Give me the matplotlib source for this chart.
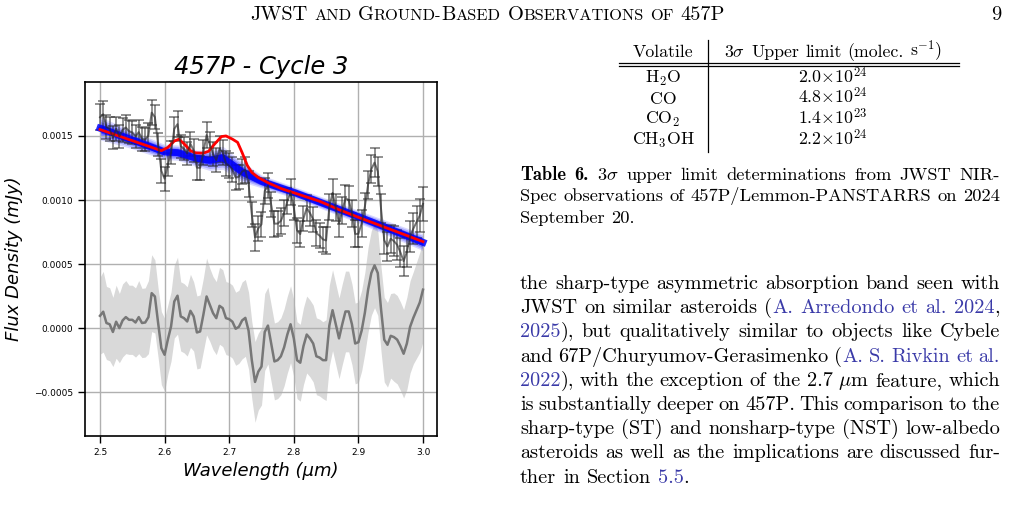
import matplotlib
matplotlib.use('Agg')
import matplotlib.pyplot as plt
from matplotlib.lines import Line2D
import numpy as np

plt.rcParams['mathtext.fontset'] = 'cm'

W, H = 1009, 519

# ---- spectrum data (flux in mJy) ----
wavelength = np.round(np.arange(2.5, 3.0001, 0.005), 3)
flux = np.array([
    16.46, 16.69, 15.72, 15.54, 14.85, 15.56, 14.97, 15.48, 15.66, 15.36,
    15.27, 14.97, 15.30, 14.76, 14.71, 15.04, 16.82, 16.47, 14.32, 12.27,
    11.66, 12.75, 13.69, 15.56, 15.92, 14.21, 13.99, 13.64, 14.39, 13.86,
    12.52, 12.51, 13.72, 15.07, 14.33, 13.59, 13.11, 13.98, 13.72, 12.85,
    12.68, 12.39, 11.75, 11.82, 12.23, 12.34, 11.25, 8.86, 7.08, 7.79,
    8.10, 10.71, 11.12, 9.64, 8.15, 8.16, 8.37, 8.98, 9.90, 10.61,
    9.42, 7.63, 7.34, 8.56, 9.37, 8.98, 8.49, 7.40, 7.22, 6.93,
    6.84, 9.45, 10.56, 9.38, 8.19, 9.20, 10.11, 10.02, 8.94, 7.35,
    7.36, 8.17, 9.48, 11.20, 12.41, 12.92, 12.23, 9.34, 6.86, 6.37,
    6.98, 6.79, 6.50, 5.92, 5.23, 5.94, 7.15, 7.76, 8.28, 8.79,
    9.70]) * 1e-4
flux_err = np.array([
    1.00, 1.05, 0.95, 0.95, 0.90, 0.95, 0.90, 0.95, 0.95, 0.90,
    0.90, 0.90, 0.95, 0.90, 0.90, 0.95, 1.00, 0.95, 0.90, 0.95,
    0.95, 0.90, 0.90, 0.95, 1.00, 0.90, 0.90, 0.90, 0.95, 0.90,
    0.95, 0.95, 0.95, 1.00, 0.95, 0.95, 0.95, 1.00, 1.00, 0.95,
    0.95, 0.95, 0.95, 0.95, 1.00, 1.00, 1.00, 1.00, 1.05, 1.00,
    1.00, 1.00, 1.00, 1.00, 1.00, 1.00, 1.00, 1.00, 1.00, 1.00,
    1.00, 1.00, 1.00, 1.00, 1.00, 1.00, 1.00, 1.00, 1.00, 1.00,
    1.05, 1.05, 1.05, 1.05, 1.05, 1.05, 1.05, 1.05, 1.05, 1.05,
    1.05, 1.05, 1.05, 1.10, 1.10, 1.10, 1.10, 1.10, 1.10, 1.10,
    1.10, 1.15, 1.15, 1.15, 1.15, 1.20, 1.20, 1.20, 1.25, 1.30,
    1.35]) * 1e-4
residual = np.array([
    0.96, 1.28, 0.40, 0.30, -0.30, 0.50, 0.00, 0.60, 0.86, 0.65,
    0.65, 0.44, 0.86, 0.40, 0.44, 0.86, 2.73, 2.47, 0.40, -1.56,
    -2.08, -0.90, 0.13, 2.08, 2.53, 0.91, 0.78, 0.52, 1.35, 0.91,
    -0.34, -0.26, 1.04, 2.47, 1.82, 1.17, 0.78, 1.74, 1.56, 0.78,
    0.70, 0.50, -0.05, 0.10, 0.60, 0.80, -0.20, -2.50, -4.20, -3.40,
    -3.00, -0.30, 0.20, -1.20, -2.60, -2.50, -2.20, -1.50, -0.50, 0.30,
    -0.80, -2.50, -2.70, -1.40, -0.50, -0.80, -1.20, -2.20, -2.30, -2.50,
    -2.50, 0.20, 1.40, 0.30, -0.80, 0.30, 1.30, 1.30, 0.30, -1.20,
    -1.10, -0.20, 1.20, 3.00, 4.30, 4.90, 4.30, 1.50, -0.90, -1.30,
    -0.60, -0.70, -0.90, -1.40, -2.00, -1.20, 0.10, 0.80, 1.40, 2.00,
    3.00]) * 1e-4

# MCMC model spread (blue) and best model with gas emission (red)
blue_x = [2.50, 2.55, 2.60, 2.62, 2.65, 2.67, 2.69, 2.72, 2.75, 2.80, 2.90, 3.00]
blue_mid = np.array([1.56, 1.47, 1.375, 1.37, 1.325, 1.31, 1.33, 1.22, 1.145, 1.06, 0.87, 0.67]) * 1e-3
blue_half = np.array([0.09, 0.07, 0.06, 0.06, 0.065, 0.08, 0.09, 0.08, 0.05, 0.045, 0.05, 0.065]) * 1e-3

red_x = [2.500, 2.595, 2.605, 2.615, 2.622, 2.630, 2.640, 2.648, 2.660, 2.668, 2.678,
         2.688, 2.695, 2.705, 2.713, 2.720, 2.728, 2.735, 2.745, 2.760, 2.780, 2.810,
         2.840, 2.870, 2.900, 3.000]
red_y = np.array([1.550, 1.385, 1.410, 1.460, 1.474, 1.440, 1.385, 1.368, 1.366, 1.380, 1.440,
                  1.495, 1.500, 1.475, 1.450, 1.370, 1.270, 1.215, 1.175, 1.135, 1.090, 1.040,
                  0.990, 0.925, 0.865, 0.675]) * 1e-3

xticks = [2.5, 2.6, 2.7, 2.8, 2.9, 3.0]
xtick_labels = ['2.5', '2.6', '2.7', '2.8', '2.9', '3.0']
yticks = [-0.0005, 0.0, 0.0005, 0.0010, 0.0015]
ytick_labels = ['\u22120.0005', '0.0000', '0.0005', '0.0010', '0.0015']

# ---- page text ----
volatiles = ['H$_2$O', 'CO', 'CO$_2$', 'CH$_3$OH']
upper_limits = ['2.0$\\times$10$^{24}$', '4.8$\\times$10$^{24}$',
                '1.4$\\times$10$^{23}$', '2.2$\\times$10$^{24}$']

caption_lines = [
    '<Table 6.> 3$\\sigma$ upper limit determinations from JWST NIR-',
    'Spec observations of 457P/Lemmon-PANSTARRS on 2024',
    'September 20.',
]
body_lines = [
    'the sharp-type asymmetric absorption band seen with',
    'JWST on similar asteroids ([A. Arredondo et al. 2024],',
    '[2025]), but qualitatively similar to objects like Cybele',
    'and 67P/Churyumov-Gerasimenko ([A. S. Rivkin et al.]',
    '[2022]), with the exception of the 2.7 $\\mu$m feature, which',
    'is substantially deeper on 457P. This comparison to the',
    'sharp-type (ST) and nonsharp-type (NST) low-albedo',
    'asteroids as well as the implications are discussed fur-',
    'ther in Section [5.5].',
]
LINK = '#3a3aa8'

fig = plt.figure(figsize=(W / 100, H / 100), dpi=100)
renderer = fig.canvas.get_renderer()


def fx(x):
    return x / W


def fy(y):
    return 1 - y / H


def seg_width(s, size, family):
    t = fig.text(0, 0, s, fontsize=size, family=family)
    w = t.get_window_extent(renderer).width
    t.remove()
    return w


def parse(line):
    words = []
    blue = bold = False
    for raw in line.split(' '):
        segs, cur = [], ''
        for ch in raw:
            if ch in '[]<>':
                if cur:
                    segs.append((cur, LINK if blue else 'black', 'cmb10' if bold else 'cmr10'))
                cur = ''
                if ch in '[]':
                    blue = ch == '['
                else:
                    bold = ch == '<'
            else:
                cur += ch
        if cur:
            segs.append((cur, LINK if blue else 'black', 'cmb10' if bold else 'cmr10'))
        words.append(segs)
    return words


def text_line(line, x0, y, size, x1=None, ha='left'):
    items = []
    for segs in parse(line):
        items.append([(s, c, f, seg_width(s, size, f)) for s, c, f in segs])
    widths = [sum(s[3] for s in segs) for segs in items]
    space = size * 100 / 72 * 0.333
    if x1 is not None and len(items) > 1:
        space = (x1 - x0 - sum(widths)) / (len(items) - 1)
    total = sum(widths) + space * (len(items) - 1)
    x = x0 - total / 2 if ha == 'center' else x0
    for segs in items:
        for s, c, f, sw in segs:
            fig.text(fx(x), fy(y), s, fontsize=size, family=f, color=c, va='baseline', ha='left')
            x += sw
        x += space


# running head in small caps
head = [('JWST', 1), (' ', 1), ('AND', 0), (' ', 1), ('G', 1), ('ROUND-', 0), ('B', 1),
        ('ASED', 0), (' ', 1), ('O', 1), ('BSERVATIONS', 0), (' ', 1), ('OF', 0), (' ', 1),
        ('457P', 1)]
big, small = 14.7, 11.8
x = 250
for s, cap in head:
    size = big if cap else small
    if s == ' ':
        x += big * 100 / 72 * 0.333
        continue
    fig.text(fx(x), fy(20), s, fontsize=size, family='cmr10', va='baseline')
    x += seg_width(s, size, 'cmr10')
fig.text(fx(1001), fy(20), '9', fontsize=14.7, family='cmr10', va='baseline', ha='right')

# table 6
tsize = 12.8
text_line('Volatile', 663, 57, tsize, ha='center')
text_line('3$\\sigma$ Upper limit (molec. s$^{-1}$)', 833, 57, tsize, ha='center')
for yy in (62.5, 66):
    fig.add_artist(Line2D([fx(619), fx(959)], [fy(yy), fy(yy)], lw=0.9, color='black',
                          transform=fig.transFigure))
fig.add_artist(Line2D([fx(707.5), fx(707.5)], [fy(40), fy(152)], lw=0.9, color='black',
                      transform=fig.transFigure))
for k, (v, u) in enumerate(zip(volatiles, upper_limits)):
    yb = 83 + k * 20.7
    fig.text(fx(663), fy(yb), v, fontsize=tsize, family='cmr10', ha='center', va='baseline')
    fig.text(fx(833), fy(yb), u, fontsize=tsize, family='cmr10', ha='center', va='baseline')

# caption
for k, line in enumerate(caption_lines):
    last = k == len(caption_lines) - 1
    text_line(line, 520, 180 + k * 21.3, 13.3, None if last else 1000)

# body paragraph
for k, line in enumerate(body_lines):
    last = k == len(body_lines) - 1
    text_line(line, 520, 289 + k * 24.2, 14.6, None if last else 1000)

# ---- the chart ----
ax = fig.add_axes([85 / W, (H - 436) / H, 351.7 / W, 354 / H])
ax.fill_between(wavelength, residual - 3 * flux_err, residual + 3 * flux_err,
                color='#d9d9d9', lw=0)
ax.plot(wavelength, residual, color='#777777', lw=1.8)
ax.errorbar(wavelength, flux, yerr=flux_err, color='#2a2a2a', alpha=0.65, lw=1.4,
            capsize=3.5, elinewidth=1.1, capthick=1.1)
for frac, a in [(1.0, 0.15), (0.8, 0.2), (0.6, 0.3), (0.4, 0.45)]:
    ax.fill_between(blue_x, blue_mid - frac * blue_half, blue_mid + frac * blue_half,
                    color='blue', alpha=a, lw=0)
ax.plot(blue_x, blue_mid, color='blue', lw=5, alpha=0.85)
ax.plot(red_x, red_y, color='red', lw=2)

ax.set_xlim(2.4768, 3.0212)
ax.set_ylim(-0.000842, 0.001921)
ax.set_xticks(xticks)
ax.set_xticklabels(xtick_labels)
ax.set_yticks(yticks)
ax.set_yticklabels(ytick_labels)
ax.tick_params(labelsize=6.5, length=5, width=1)
ax.grid(True, color='#b0b0b0', lw=1)
for sp in ax.spines.values():
    sp.set_linewidth(1.2)
ax.set_title('457P - Cycle 3', fontsize=17.5, style='italic', pad=6)
ax.set_xlabel('Wavelength (\u03bcm)', fontsize=13, style='italic', labelpad=4)
ax.set_ylabel('Flux Density (mJy)', fontsize=13, style='italic', labelpad=8)

fig.savefig('out.png', dpi=100)
